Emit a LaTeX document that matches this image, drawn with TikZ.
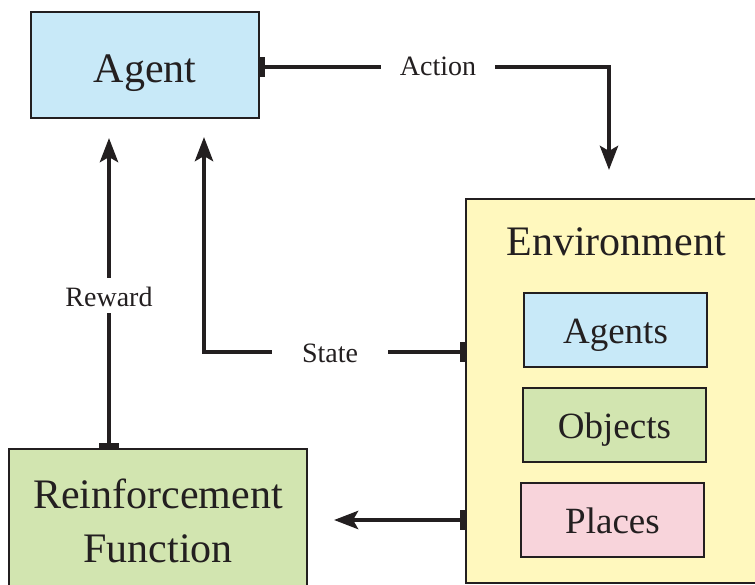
\documentclass[tikz,border=0pt]{standalone}
\usepackage{fontspec}
\setmainfont{Liberation Serif}
\usetikzlibrary{arrows.meta,positioning}

\definecolor{ink}{HTML}{231F20}
\definecolor{agentblue}{HTML}{C8E9F8}
\definecolor{envyellow}{HTML}{FFF8BE}
\definecolor{rfgreen}{HTML}{D2E5B0}
\definecolor{placepink}{HTML}{F8D4DB}

\tikzset{
  box/.style={draw=ink, line width=2pt, inner sep=0pt},
  bigtext/.style={font=\fontsize{42}{52}\selectfont, text=ink, anchor=base, inner sep=0pt},
  innertext/.style={font=\fontsize{37}{44}\selectfont, text=ink, anchor=base, inner sep=0pt},
  flowlabel/.style={font=\fontsize{28}{32}\selectfont, text=ink, fill=white, anchor=base,
    text height=21pt, text depth=0pt, inner xsep=19pt, inner ysep=7pt},
  flow/.style={draw=ink, line width=4.5pt,
    {Rectangle[length=5pt,width=20pt]}-{Stealth[length=24pt,width=18pt,inset=5pt]}},
}

\begin{document}
\begin{tikzpicture}[x=1pt, y=-1pt]
  \useasboundingbox (0,0) rectangle (755,584);
  \clip (0,0) rectangle (755,584);

  % main blocks
  \node[box, fill=agentblue, minimum width=228pt, minimum height=106pt] (agent) at (145,65) {};
  \node[bigtext] (agenttext) at (145,82) {Agent};
  \node[box, fill=envyellow, minimum width=310pt, minimum height=384pt] (env) at (621,391) {};
  \node[box, fill=rfgreen, minimum width=298pt, minimum height=171pt] (rf) at (157.5,534.5) {};
  \node[bigtext] (rfline1) at (158,508) {Reinforcement};
  \node[bigtext] (rfline2) at (158,562) {Function};

  % contents of the environment
  \node[bigtext] (envtext) at (616,255) {Environment};
  \node[box, fill=agentblue, minimum width=183pt, minimum height=74pt] (agents) at (615.5,330) {};
  \node[innertext] (agentstext) at (615.5,343) {Agents};
  \node[box, fill=rfgreen, minimum width=183pt, minimum height=74pt] (objects) at (614.5,425) {};
  \node[innertext] (objectstext) at (614.5,438) {Objects};
  \node[box, fill=placepink, minimum width=183pt, minimum height=74pt] (places) at (612.5,520) {};
  \node[innertext] (placestext) at (612.5,533) {Places};

  % free ends of the connectors
  \coordinate (actTip) at (609,170);
  \coordinate (stateTip) at (204,137);
  \coordinate (rewardTip) at (109,138);
  \coordinate (rfTip) at (334,520);

  % Action: agent -> environment
  \draw[flow] ([yshift=-2pt]agent.east) -- (609,67) -- (actTip);
  \node[flowlabel] (action) at (438,75) {Action};

  % State: environment -> agent
  \draw[flow] (env.west |- 0,352) -- (204,352) -- (stateTip);
  \node[flowlabel, inner xsep=30pt] (state) at (330,362) {State};

  % Reward: reinforcement function -> agent
  \draw[flow] (rf.north -| 109,0) -- (rewardTip);
  \node[flowlabel, inner xsep=4pt] (reward) at (109,306) {Reward};

  % environment -> reinforcement function
  \draw[flow] (env.west |- 0,520) -- (rfTip);
\end{tikzpicture}
\end{document}
